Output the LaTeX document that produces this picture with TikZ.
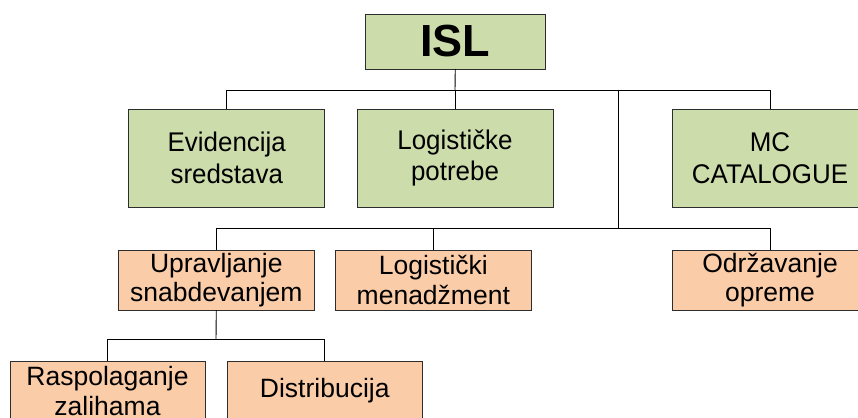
\documentclass[tikz,border=0pt]{standalone}
\usepackage{fontspec}
\setmainfont{Liberation Sans}
\newfontfamily\condfont[FakeStretch=0.96]{Liberation Sans}
\definecolor{boxgreen}{RGB}{205,220,171}
\definecolor{boxorange}{RGB}{250,204,168}
\definecolor{edgegray}{RGB}{45,45,45}
\begin{document}
\begin{tikzpicture}[x=1pt,y=-1pt,
  every node/.style={inner sep=0pt, outer sep=0pt},
  gbox/.style={draw=edgegray, line width=0.9pt, fill=boxgreen, minimum width=196pt, minimum height=98pt, align=center, font=\condfont\fontsize{27}{31.5}\selectfont},
  obox/.style={draw=edgegray, line width=0.9pt, fill=boxorange, minimum width=196pt, minimum height=60pt, align=center, font=\fontsize{26.5}{29.5}\selectfont},
  conn/.style={draw=black, line width=0.9pt}]
\useasboundingbox (0,0) rectangle (858,417);
\clip (0,0) rectangle (858,417);
\fill[white] (0,0) rectangle (858,417);
% bus coordinates
\coordinate (b1) at (455,90.5);
\coordinate (b2) at (618,228.5);
\coordinate (b3) at (216,339.3);
% nodes
\node[gbox, minimum width=179.5pt, minimum height=55pt, font=\fontsize{45}{50}\selectfont\bfseries] (isl) at (455.25,41.5) {ISL};
\node[gbox] (ev) at (226.75,158) {Evidencija\\sredstava};
\node[gbox] (lp) at (455,158) {Logističke\\potrebe};
\node[gbox] (mc) at (770,158) {MC\\CATALOGUE};
\node[obox] (up) at (216.3,280) {Upravljanje\\snabdevanjem};
\node[obox] (lm) at (433.3,280) {Logistički\\menadžment};
\node[obox] (od) at (770,280) {Održavanje\\opreme};
\node[obox, minimum width=195pt] (ra) at (107.5,391) {Raspolaganje\\zalihama};
\node[obox, minimum width=195pt] (di) at (324.75,391) {Distribucija};
% connectors
\draw[conn] (isl.south) -- (b1);
\draw[conn] (ev.north) |- (b1);
\draw[conn] (mc.north) |- (b1);
\draw[conn] (lp.north) -- (b1);
\draw[conn] (b1) -| (b2);
\draw[conn] (up.north) |- (b2);
\draw[conn] (lm.north) |- (b2);
\draw[conn] (od.north) |- (b2);
\draw[conn] (up.south) -- (b3);
\draw[conn] (ra.north) |- (b3);
\draw[conn] (di.north) |- (b3);
\end{tikzpicture}
\end{document}
